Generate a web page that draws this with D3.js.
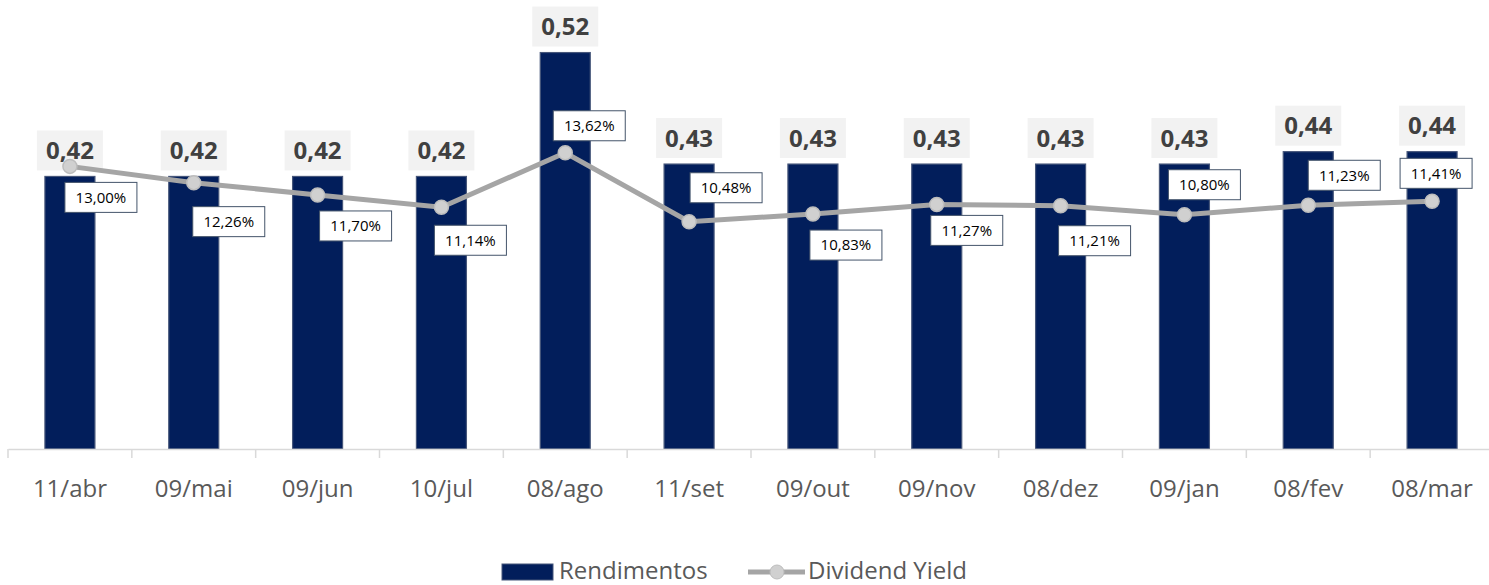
<!DOCTYPE html>
<html>
<head>
<meta charset="utf-8">
<script src="https://cdn.jsdelivr.net/npm/d3@7"></script>
<style>
  body { margin: 0; background: #fff; }
  text { font-family: "Open Sans", "Noto Sans", sans-serif; }
</style>
</head>
<body>
<script>
var width = 1489;
var height = 585;

// data
var datas = ["11/abr", "09/mai", "09/jun", "10/jul", "08/ago", "11/set",
             "09/out", "09/nov", "08/dez", "09/jan", "08/fev", "08/mar"];
var rendimentos = [0.42, 0.42, 0.42, 0.42, 0.52, 0.43, 0.43, 0.43, 0.43, 0.43, 0.44, 0.44];
var dividendYield = [13.00, 12.26, 11.70, 11.14, 13.62, 10.48, 10.83, 11.27, 11.21, 10.80, 11.23, 11.41];

// where each yield label sits relative to its point (dx, dy of the box centre)
var labelOffsets = [[31, 31], [35, 39], [38, 31], [29, 33], [24, -27], [37, -34],
                    [33, 31], [30, 26], [34, 35], [20, -30], [36, -30], [4, -28]];

var fmt = function(v, d) { return v.toFixed(d).replace(".", ","); };

var svg = d3.select("body").append("svg")
            .attr("width", width)
            .attr("height", height);

var x = d3.scaleBand().domain(datas).range([8, 1494]);
var yBar = d3.scaleLinear().domain([0.2, 0.56]).range([449, 3]);
var yLine = d3.scaleLinear().domain([0, 20]).range([452, 12.6]);

//Bars
svg.selectAll(".bar")
   .data(rendimentos)
   .enter().append("rect")
   .attr("class", "bar")
   .attr("x", function(d, i) { return x(datas[i]) + x.bandwidth() / 2 - 25; })
   .attr("width", 50)
   .attr("y", function(d) { return yBar(d); })
   .attr("height", function(d) { return 449 - yBar(d); })
   .attr("fill", "#021e5b")
   .attr("stroke", "#46567a")
   .attr("stroke-width", 1.2);

//Axis
var axis = svg.append("g")
   .attr("transform", "translate(0,449)")
   .call(d3.axisBottom(x).tickSize(0).tickPadding(31));
axis.select(".domain").attr("stroke", "#d9d9d9").attr("stroke-width", 1.5);
axis.selectAll("text")
    .attr("font-size", 24)
    .attr("fill", "#595959")
    .style("font-family", "'Open Sans', 'Noto Sans', sans-serif");

var bounds = datas.map(function(d) { return x(d); }).concat([x.range()[1]]);
svg.selectAll(".tick-mark")
   .data(bounds)
   .enter().append("line")
   .attr("x1", function(d) { return d; })
   .attr("x2", function(d) { return d; })
   .attr("y1", 449)
   .attr("y2", 458)
   .attr("stroke", "#d9d9d9")
   .attr("stroke-width", 1.5);

//Bar labels
var barLabels = svg.selectAll(".bar-label")
   .data(rendimentos)
   .enter().append("g")
   .attr("transform", function(d, i) {
       return "translate(" + (x(datas[i]) + x.bandwidth() / 2) + "," + (yBar(d) - 26) + ")";
   });
barLabels.append("rect")
   .attr("x", -33).attr("y", -20)
   .attr("width", 66).attr("height", 40)
   .attr("fill", "#f2f2f2");
barLabels.append("text")
   .attr("text-anchor", "middle")
   .attr("dy", "0.36em")
   .attr("font-size", 24)
   .attr("font-weight", "bold")
   .attr("fill", "#404040")
   .text(function(d) { return fmt(d, 2); });

//Line
var cx = function(i) { return x(datas[i]) + x.bandwidth() / 2; };
var line = d3.line()
   .x(function(d, i) { return cx(i); })
   .y(function(d) { return yLine(d); });

svg.append("path")
   .datum(dividendYield)
   .attr("d", line)
   .attr("fill", "none")
   .attr("stroke", "#a5a5a5")
   .attr("stroke-width", 5);

svg.selectAll(".dot")
   .data(dividendYield)
   .enter().append("circle")
   .attr("cx", function(d, i) { return cx(i); })
   .attr("cy", function(d) { return yLine(d); })
   .attr("r", 7)
   .attr("fill", "#d0d0d0")
   .attr("stroke", "#bdbdbd")
   .attr("stroke-width", 1.5);

//Line labels
var lineLabels = svg.selectAll(".line-label")
   .data(dividendYield)
   .enter().append("g")
   .attr("transform", function(d, i) {
       return "translate(" + (cx(i) + labelOffsets[i][0]) + "," + (yLine(d) + labelOffsets[i][1]) + ")";
   });
lineLabels.append("rect")
   .attr("x", -36).attr("y", -15)
   .attr("width", 72).attr("height", 30)
   .attr("fill", "#ffffff")
   .attr("stroke", "#44546a")
   .attr("stroke-width", 1);
lineLabels.append("text")
   .attr("text-anchor", "middle")
   .attr("dy", "0.36em")
   .attr("font-size", 15)
   .attr("fill", "#000")
   .text(function(d) { return fmt(d, 2) + "%"; });

//Legend
var legend = svg.append("g");
legend.append("rect")
   .attr("x", 502).attr("y", 564)
   .attr("width", 51).attr("height", 16)
   .attr("fill", "#021e5b")
   .attr("stroke", "#46567a");
legend.append("text")
   .attr("x", 559).attr("y", 579)
   .attr("font-size", 24)
   .attr("fill", "#595959")
   .text("Rendimentos");
legend.append("line")
   .attr("x1", 748).attr("x2", 805)
   .attr("y1", 572).attr("y2", 572)
   .attr("stroke", "#a5a5a5")
   .attr("stroke-width", 5);
legend.append("circle")
   .attr("cx", 777).attr("cy", 572).attr("r", 7)
   .attr("fill", "#d0d0d0")
   .attr("stroke", "#bdbdbd");
legend.append("text")
   .attr("x", 808).attr("y", 579)
   .attr("font-size", 24)
   .attr("fill", "#595959")
   .text("Dividend Yield");
</script>
</body>
</html>
